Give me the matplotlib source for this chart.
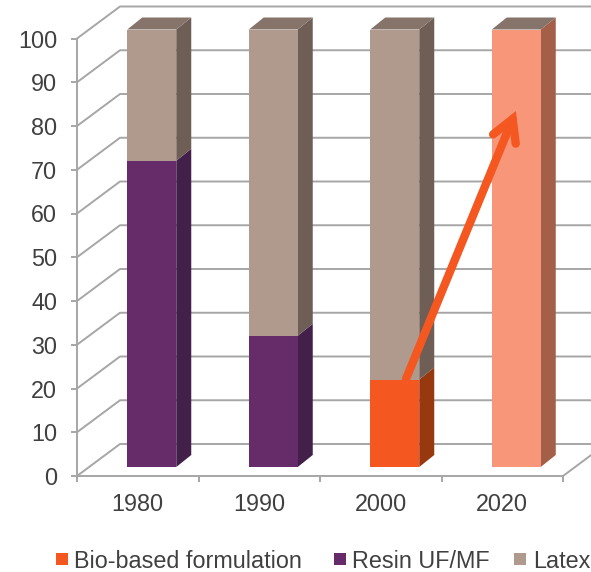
import matplotlib
matplotlib.use('Agg')
import matplotlib.pyplot as plt
from matplotlib.patches import Polygon, Rectangle, FancyArrowPatch

plt.rcParams['font.family'] = ['Liberation Sans', 'DejaVu Sans']

years = ['1980', '1990', '2000', '2020']
bio = [0, 0, 20, 100]
resin = [70, 30, 0, 0]
latex = [30, 70, 80, 0]
y_ticks = list(range(0, 101, 10))

series = [('Bio-based formulation', bio, '#f4571f', '#97380f', '#97380f'),
          ('Resin UF/MF', resin, '#662b69', '#42204a', '#42204a'),
          ('Latex', latex, '#b09a8e', '#6e5e55', '#86736a')]
# the 2020 bar is a forecast, drawn lighter
light_front, light_side, light_top = '#f79679', '#a35f47', '#c0725a'

grid_color = '#a6a6a6'
text_color = '#404040'

W, H = 591, 572
PX_X = 486 / 4      # pixels per category
PX_Y = 437.5 / 100  # pixels per unit


def px_dx(px):
    return px / PX_X


def px_dy(px):
    return px / PX_Y


fig = plt.figure(figsize=(W / 100, H / 100), dpi=100)
ax = fig.add_axes([77 / W, (H - 476) / H, 486 / W, 437.5 / H])
ax.set_xlim(-0.5, 3.5)
ax.set_ylim(0, 100)
ax.patch.set_visible(False)

# walls of the 3d box
wall_dx, wall_dy = px_dx(43), px_dy(32)
for v in y_ticks:
    ax.plot([-0.5, -0.5 + wall_dx, 3.5 + wall_dx], [v, v + wall_dy, v + wall_dy],
            color=grid_color, lw=1.4, clip_on=False, zorder=1)
ax.plot([3.5, 3.5 + wall_dx], [0, wall_dy], color=grid_color, lw=1.4, clip_on=False, zorder=1)

# bars
bar_shift = px_dx(14)
bar_half = px_dx(24.5)
bar_lift = px_dy(9)
depth_x, depth_y = px_dx(15), px_dy(12)

for i in range(len(years)):
    bottom = bar_lift
    for name, values, front, side, top in series:
        v = values[i]
        if v == 0:
            continue
        if i == 3:
            front, side, top = light_front, light_side, light_top
        x0 = i + bar_shift - bar_half
        x1 = i + bar_shift + bar_half
        ax.add_patch(Polygon([(x1, bottom), (x1 + depth_x, bottom + depth_y),
                              (x1 + depth_x, bottom + v + depth_y), (x1, bottom + v)],
                             fc=side, ec='none', clip_on=False, zorder=2))
        ax.add_patch(Polygon([(x0, bottom), (x1, bottom), (x1, bottom + v), (x0, bottom + v)],
                             fc=front, ec='none', clip_on=False, zorder=3))
        bottom += v
    ax.add_patch(Polygon([(x0, bottom), (x1, bottom),
                          (x1 + depth_x, bottom + depth_y), (x0 + depth_x, bottom + depth_y)],
                         fc=top, ec='none', clip_on=False, zorder=2))

# trend arrow
arrow = FancyArrowPatch((2.208, 22.2), (3.112, 83.4), arrowstyle='->,head_length=3.9,head_width=2.2',
                        color='#f4571f', lw=6, capstyle='round', joinstyle='miter',
                        shrinkA=0, shrinkB=0, mutation_scale=4, clip_on=False, zorder=5)
ax.add_patch(arrow)

# axes
for s in ['top', 'right']:
    ax.spines[s].set_visible(False)
for s in ['left', 'bottom']:
    ax.spines[s].set_color(grid_color)
    ax.spines[s].set_linewidth(1.4)
    ax.spines[s].set_zorder(1)
ax.set_yticks(y_ticks)
ax.set_xticks([-0.5, 0.5, 1.5, 2.5, 3.5])
ax.set_xticklabels([])
ax.set_xticks(range(len(years)), years, minor=True)
ax.tick_params(axis='both', which='major', length=4.3, width=1.4, color=grid_color)
ax.tick_params(axis='y', labelsize=16.8, labelcolor=text_color, pad=10)
ax.tick_params(axis='x', which='minor', length=0, labelsize=16.8, labelcolor=text_color, pad=12.5)

# legend, placed by hand because its gaps are uneven
legend_x = [56, 334, 514]
legend_text_x = [74, 352, 533]
for (name, values, front, side, top), sx, tx in zip(series, legend_x, legend_text_x):
    fig.add_artist(Rectangle((sx / W, (H - 565) / H), 12 / W, 12 / H, fc=front, ec='none',
                             transform=fig.transFigure))
    fig.text(tx / W, (H - 561.5) / H, name, fontsize=16.8, color=text_color, ha='left', va='center')

fig.savefig('out.png', dpi=100)
